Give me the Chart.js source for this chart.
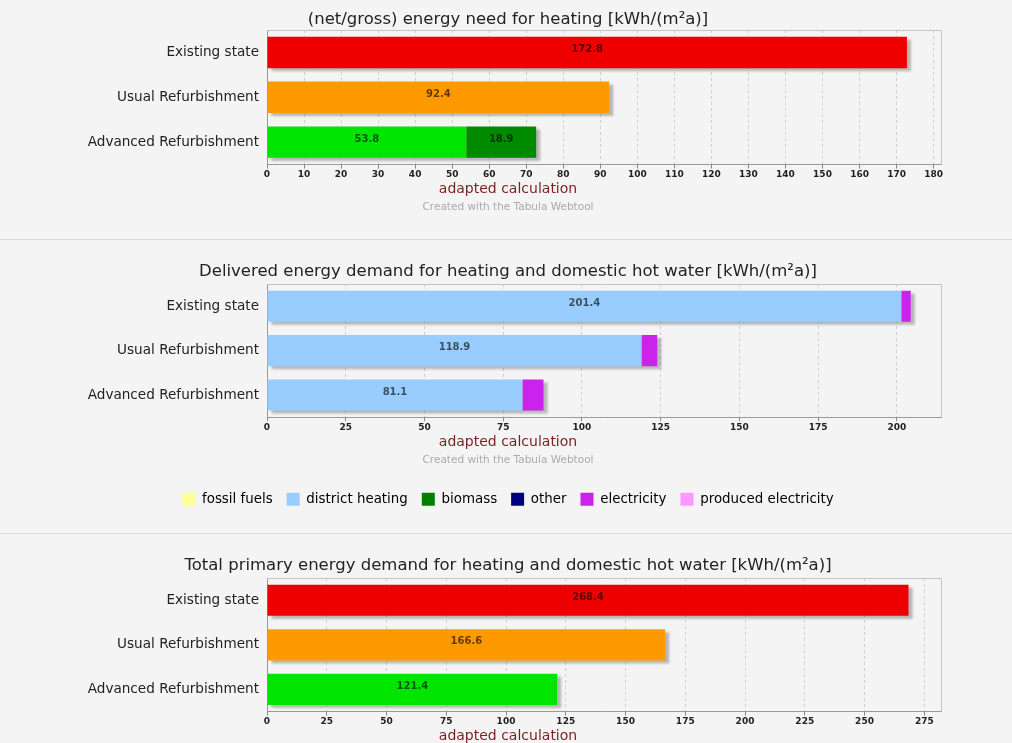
<!DOCTYPE html>
<html>
<head>
<meta charset="utf-8">
<script src="https://cdn.jsdelivr.net/npm/chart.js@4.4.0/dist/chart.umd.min.js"></script>
<style>
html, body { margin: 0; padding: 0; background: #f4f4f4; overflow: hidden; }
body { width: 1012px; height: 743px; position: relative; }
.box { position: absolute; left: 0; width: 1012px; }
.sep { position: absolute; left: 0; width: 1012px; height: 1px; background: #dcdcdc; z-index: 2; }
</style>
</head>
<body>
<div class="box" style="top:0;height:239px"><canvas id="need"></canvas></div>
<div class="sep" style="top:239px"></div>
<div class="box" style="top:239px;height:294px"><canvas id="delivered"></canvas></div>
<div class="sep" style="top:533px"></div>
<div class="box" style="top:533px;height:253px"><canvas id="primary"></canvas></div>
<script>
// chart data
const categories = ['Existing state', 'Usual Refurbishment', 'Advanced Refurbishment'];
const axisTitle = 'adapted calculation';
const credit = 'Created with the Tabula Webtool';

const needTitle = '(net/gross) energy need for heating [kWh/(m²a)]';
const needMain = [172.8, 92.4, 53.8];
const needExtra = [0, 0, 18.9];

const deliveredTitle = 'Delivered energy demand for heating and domestic hot water [kWh/(m²a)]';
const carriers = ['fossil fuels', 'district heating', 'biomass', 'other', 'electricity', 'produced electricity'];
const fossilFuels = [0, 0, 0];
const districtHeating = [201.4, 118.9, 81.1];
const biomass = [0, 0, 0];
const other = [0, 0, 0];
const electricity = [3.0, 5.0, 6.7];
const producedElectricity = [0, 0, 0];

const primaryTitle = 'Total primary energy demand for heating and domestic hot water [kWh/(m²a)]';
const primaryDemand = [268.4, 166.6, 121.4];

const FONT = '"DejaVu Sans", sans-serif';
const scenarioColors = ['#ee0000', '#ff9900', '#00e500'];

// frame, shadow behind whole stacked bar, value labels, centred axis caption
const barExtras = {
    id: 'barExtras',
    beforeDatasetsDraw(chart) {
        let ctx = chart.ctx;
        let a = chart.chartArea;
        ctx.save();
        ctx.strokeStyle = '#c4c4c4';
        ctx.lineWidth = 1;
        ctx.beginPath();
        ctx.moveTo(a.left, a.top + 0.5);
        ctx.lineTo(a.right + 0.5, a.top + 0.5);
        ctx.lineTo(a.right + 0.5, a.bottom);
        ctx.stroke();

        ctx.fillStyle = 'rgba(0,0,0,0.25)';
        ctx.filter = 'blur(1.2px)';
        categories.forEach((c, j) => {
            let lo = Infinity, hi = -Infinity, y = 0, h = 0;
            chart.data.datasets.forEach((ds, i) => {
                let bar = chart.getDatasetMeta(i).data[j];
                if (!bar || !ds.data[j]) return;
                let p = bar.getProps(['x', 'base', 'y', 'height'], true);
                lo = Math.min(lo, p.base, p.x);
                hi = Math.max(hi, p.base, p.x);
                y = p.y; h = p.height;
            });
            if (hi > lo) ctx.fillRect(lo + 4, y - h / 2 + 3, hi - lo, h);
        });
        ctx.restore();
    },
    afterDatasetsDraw(chart) {
        let ctx = chart.ctx;
        ctx.save();
        ctx.font = 'bold 10px ' + FONT;
        ctx.fillStyle = 'rgba(0,0,0,0.62)';
        ctx.textAlign = 'center';
        ctx.textBaseline = 'middle';
        chart.data.datasets.forEach((ds, i) => {
            let meta = chart.getDatasetMeta(i);
            meta.data.forEach((bar, j) => {
                let v = ds.data[j];
                if (v < 10) return;
                let p = bar.getProps(['x', 'base', 'y'], true);
                ctx.fillText(v.toFixed(1), (p.x + p.base) / 2, p.y - 3);
            });
        });
        let tb = chart.titleBlock;
        ctx.font = '14px ' + FONT;
        ctx.fillStyle = '#7a1f1f';
        ctx.fillText(axisTitle, (tb.left + tb.right) / 2, chart.scales.x.bottom + 8);
        ctx.restore();
    }
};

function makeChart(id, title, datasets, max, step, o) {
    return new Chart(document.getElementById(id), {
        type: 'bar',
        data: { labels: categories, datasets: datasets },
        plugins: [barExtras],
        options: {
            indexAxis: 'y',
            responsive: true,
            maintainAspectRatio: false,
            animation: false,
            layout: { padding: { left: 75, right: 71, top: 0, bottom: o.padBottom } },
            datasets: { bar: { categoryPercentage: 1, barPercentage: 0.7, borderWidth: 0 } },
            scales: {
                x: {
                    stacked: true,
                    min: 0,
                    max: max,
                    grid: { color: '#cfcfcf', tickLength: 4, tickColor: '#888', borderDash: [3, 3] },
                    border: { color: '#999', dash: [3, 3] },
                    ticks: {
                        stepSize: step, includeBounds: false, autoSkip: false, maxRotation: 0,
                        padding: 1, color: '#222', font: { family: FONT, size: 9, weight: 'bold' }
                    }
                },
                y: {
                    stacked: true,
                    grid: { display: false, drawTicks: false },
                    border: { color: '#999' },
                    ticks: { padding: 8, color: '#222', font: { family: FONT, size: 13.6 } },
                    afterFit(scale) { scale.width = 192; }
                }
            },
            plugins: {
                title: {
                    display: true, text: title, color: '#222',
                    padding: { top: o.titleTop, bottom: o.titleBottom },
                    font: { family: FONT, size: 16.5, weight: 'normal' }
                },
                subtitle: {
                    display: true, text: credit, position: 'bottom', weight: 500, color: '#aaa',
                    padding: { top: 20, bottom: o.creditBottom },
                    font: { family: FONT, size: 10.5 }
                },
                legend: {
                    display: o.legend, position: 'bottom', weight: 2000,
                    labels: {
                        boxWidth: 13, boxHeight: 13, padding: 14, color: '#444',
                        font: { family: FONT, size: 13.4 },
                        generateLabels(chart) {
                            return chart.data.datasets.map((ds, i) => ({
                                text: ds.label, fillStyle: ds.backgroundColor,
                                strokeStyle: ds.backgroundColor, lineWidth: 0, datasetIndex: i
                            }));
                        }
                    }
                },
                tooltip: { enabled: false }
            }
        }
    });
}

makeChart('need', needTitle, [
    { label: 'main', data: needMain, backgroundColor: scenarioColors },
    { label: 'extra', data: needExtra, backgroundColor: '#008a00' }
], 182, 10, { titleTop: 10, titleBottom: 0.2, creditBottom: 0, padBottom: 25, legend: false });

const carrierData = [fossilFuels, districtHeating, biomass, other, electricity, producedElectricity];
const carrierColors = ['#ffff99', '#99ccff', '#008000', '#000080', '#cc22ee', '#ff99ff'];
makeChart('delivered', deliveredTitle, carriers.map((c, i) => ({
    label: c, data: carrierData[i], backgroundColor: carrierColors[i]
})), 214, 25, { titleTop: 23, titleBottom: 2.2, creditBottom: 12, padBottom: 17, legend: true });

makeChart('primary', primaryTitle, [
    { label: 'primary', data: primaryDemand, backgroundColor: scenarioColors }
], 282, 25, { titleTop: 23, titleBottom: 2.2, creditBottom: 0, padBottom: 25, legend: false });
</script>
</body>
</html>
